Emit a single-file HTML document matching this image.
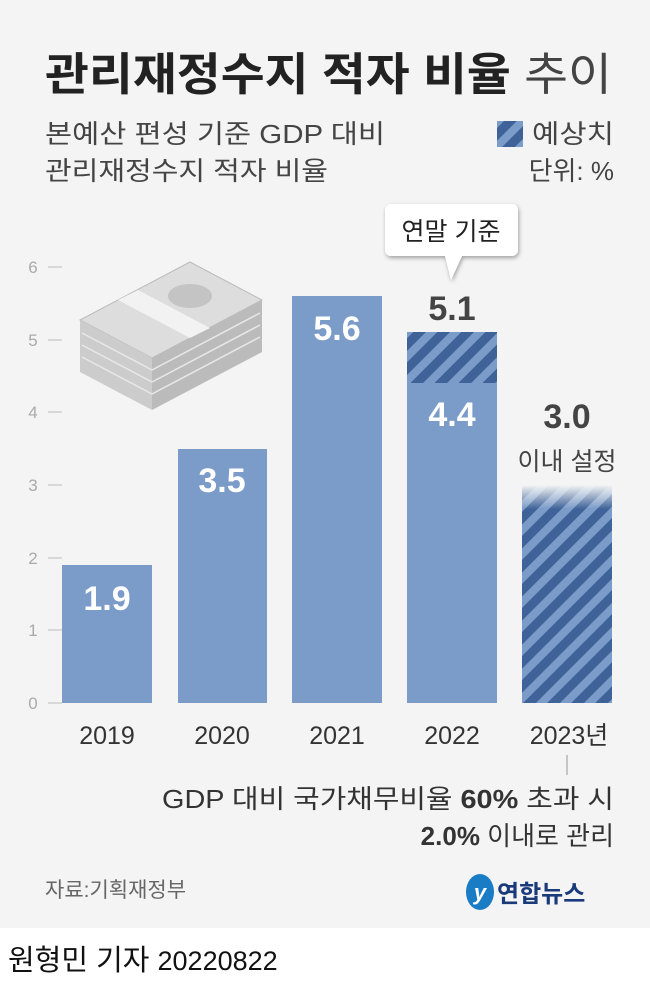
<!DOCTYPE html>
<html><head><meta charset="utf-8"><style>
body{margin:0;width:650px;height:980px;overflow:hidden;background:#fff;font-family:"Liberation Sans","Noto Sans CJK KR",sans-serif}
</style></head><body>
<svg width="650" height="980" xmlns="http://www.w3.org/2000/svg" font-family="'Liberation Sans','Noto Sans CJK KR',sans-serif">
<defs>
<pattern id="st" patternUnits="userSpaceOnUse" width="17" height="17" patternTransform="rotate(45)">
<rect width="17" height="17" fill="#7b9bc8"/><rect width="9" height="17" fill="#3f6399"/>
</pattern>
<linearGradient id="fade" x1="0" y1="0" x2="0" y2="1">
<stop offset="0" stop-color="#f4f4f4" stop-opacity="1"/><stop offset="0.6" stop-color="#f4f4f4" stop-opacity="0"/>
</linearGradient>
<filter id="sh"><feDropShadow dx="1" dy="2" stdDeviation="2" flood-opacity="0.35"/></filter>
</defs>
<rect width="650" height="928" fill="#f4f4f4"/>
<text x="45" y="90" font-size="45" font-weight="bold" fill="#222" textLength="567" lengthAdjust="spacingAndGlyphs">관리재정수지 적자 비율 <tspan font-weight="normal" fill="#444">추이</tspan></text>
<text x="45" y="143" font-size="26" fill="#444" textLength="340" lengthAdjust="spacingAndGlyphs">본예산 편성 기준 GDP 대비</text>
<text x="45" y="180" font-size="26" fill="#444" textLength="283" lengthAdjust="spacingAndGlyphs">관리재정수지 적자 비율</text>
<rect x="497" y="121" width="26" height="26" fill="url(#st)"/>
<text x="532" y="143" font-size="26" fill="#444" textLength="82" lengthAdjust="spacingAndGlyphs">예상치</text>
<text x="614" y="180" font-size="26" fill="#444" text-anchor="end">단위: %</text>
<g font-size="17" fill="#aaa" text-anchor="middle">
<text x="33" y="709">0</text><text x="33" y="636">1</text><text x="33" y="564">2</text><text x="33" y="491">3</text><text x="33" y="418">4</text><text x="33" y="346">5</text><text x="33" y="273">6</text>
</g>
<g stroke="#bbb" stroke-width="1">
<line x1="48" x2="62" y1="703" y2="703"/><line x1="48" x2="62" y1="630" y2="630"/><line x1="48" x2="62" y1="558" y2="558"/><line x1="48" x2="62" y1="485" y2="485"/><line x1="48" x2="62" y1="412" y2="412"/><line x1="48" x2="62" y1="340" y2="340"/><line x1="48" x2="62" y1="267" y2="267"/>
</g>
<g>
<polygon points="80,320 190,262 262,300 152,358" fill="#ddd" stroke="#bbb"/>
<polygon points="80,320 152,358 152,410 80,372" fill="#ccc"/>
<polygon points="152,358 262,300 262,352 152,410" fill="#bbb"/>
<g stroke="#e8e8e8" stroke-width="1.5"><line x1="82" y1="333" x2="152" y2="370"/><line x1="82" y1="345" x2="152" y2="382"/><line x1="82" y1="357" x2="152" y2="394"/><line x1="152" y1="370" x2="260" y2="313"/><line x1="152" y1="382" x2="260" y2="325"/><line x1="152" y1="394" x2="260" y2="337"/></g>
<polygon points="118,300 138,290 210,328 190,338" fill="#f2f2f2"/>
<ellipse cx="190" cy="296" rx="22" ry="12" fill="#c4c4c4"/>
</g>
<rect x="62" y="565" width="90" height="138" fill="#7b9bc8"/>
<rect x="178" y="449" width="89" height="254" fill="#7b9bc8"/>
<rect x="292" y="296" width="90" height="407" fill="#7b9bc8"/>
<rect x="407" y="383" width="90" height="320" fill="#7b9bc8"/>
<rect x="407" y="332" width="90" height="51" fill="url(#st)"/>
<rect x="522" y="485" width="90" height="218" fill="url(#st)"/>
<rect x="522" y="485" width="90" height="40" fill="url(#fade)"/>
<g font-size="34" font-weight="bold" fill="#fff" text-anchor="middle">
<text x="107" y="610">1.9</text><text x="222" y="492">3.5</text><text x="337" y="340">5.6</text><text x="452" y="426">4.4</text>
</g>
<text x="452" y="320" font-size="34" font-weight="bold" fill="#444" text-anchor="middle">5.1</text>
<text x="567" y="428" font-size="34" font-weight="bold" fill="#444" text-anchor="middle">3.0</text>
<text x="567" y="470" font-size="25" fill="#444" text-anchor="middle">이내 설정</text>
<g filter="url(#sh)">
<path d="M391,204 h121 a6,6 0 0 1 6,6 v40 a6,6 0 0 1 -6,6 h-50 l-11,24 l-6,-24 h-54 a6,6 0 0 1 -6,-6 v-40 a6,6 0 0 1 6,-6z" fill="#fff"/>
</g>
<text x="451" y="240" font-size="25" fill="#222" text-anchor="middle">연말 기준</text>
<g font-size="25" fill="#333" text-anchor="middle">
<text x="107" y="744">2019</text><text x="222" y="744">2020</text><text x="337" y="744">2021</text><text x="452" y="744">2022</text><text x="569" y="744">2023년</text>
</g>
<line x1="567" y1="755" x2="567" y2="775" stroke="#999"/>
<text x="162" y="808" font-size="26" fill="#333" textLength="452" lengthAdjust="spacingAndGlyphs">GDP 대비 국가채무비율 <tspan font-weight="bold">60%</tspan> 초과 시</text>
<text x="614" y="845" font-size="26" fill="#333" text-anchor="end"><tspan font-weight="bold">2.0%</tspan> 이내로 관리</text>
<text x="45" y="897" font-size="21" fill="#666">자료:기획재정부</text>
<ellipse cx="480" cy="892" rx="14" ry="18" fill="#1a7cc4"/>
<text x="480" y="900" font-size="22" font-style="italic" font-weight="bold" fill="#fff" text-anchor="middle">y</text>
<text x="497" y="902" font-size="24" font-weight="bold" fill="#1b3a7a">연합뉴스</text>
<text x="8" y="970" font-size="29" fill="#111">원형민 기자 <tspan font-size="27">20220822</tspan></text>
</svg>
</body></html>
